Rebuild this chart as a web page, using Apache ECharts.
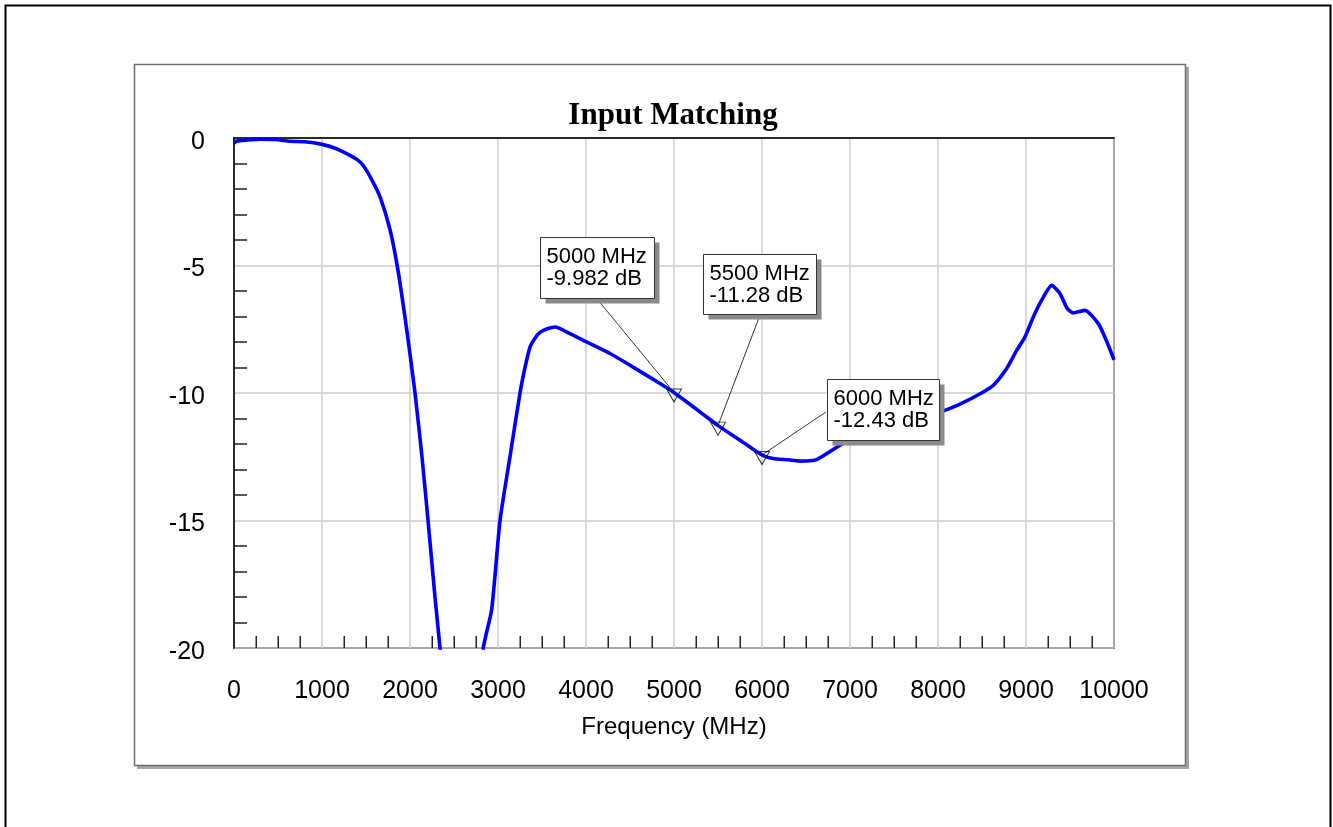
<!DOCTYPE html>
<html>
<head>
<meta charset="utf-8">
<script src="https://cdn.jsdelivr.net/npm/echarts@6/dist/echarts.min.js"></script>
<style>
  html, body { margin: 0; padding: 0; background: #fff; }
  #chart { width: 1333px; height: 827px; }
</style>
</head>
<body>
<div id="chart"></div>
<script>
// ---- data ----
const freqMHz = [0, 30, 150, 300, 466, 636, 800, 1000, 1150, 1318, 1400, 1466, 1560, 1659, 1773, 1864, 1962, 2057, 2133, 2205, 2284, 2341, 2400, 2500, 2600, 2700, 2833, 2928, 3023, 3136, 3250, 3307, 3364, 3420, 3477, 3560, 3648, 3818, 4008, 4273, 4500, 4841, 5000, 5371, 5500, 5750, 6000, 6129, 6300, 6432, 6621, 6886, 7000, 7300, 7600, 7900, 8080, 8250, 8515, 8629, 8780, 8894, 8989, 9083, 9178, 9292, 9386, 9470, 9538, 9670, 9822, 9920, 10000];
const s11dB = [-0.2, -0.12, -0.08, -0.05, -0.06, -0.13, -0.15, -0.25, -0.4, -0.68, -0.85, -1.07, -1.6, -2.3, -3.6, -5.2, -7.5, -10.0, -12.4, -15.0, -18.0, -20.0, -22.5, -27, -30, -25.5, -20.0, -18.5, -15.0, -12.5, -10.0, -9.0, -8.2, -7.85, -7.62, -7.48, -7.41, -7.67, -8.0, -8.45, -8.91, -9.63, -9.982, -10.94, -11.28, -11.85, -12.43, -12.57, -12.62, -12.67, -12.61, -12.05, -11.86, -11.5, -11.2, -10.9, -10.68, -10.44, -9.96, -9.7, -9.04, -8.33, -7.8, -7.02, -6.36, -5.78, -6.10, -6.7, -6.86, -6.76, -7.28, -8.0, -8.7];

const markerFreq = [5000, 5500, 6000];
const markerDb = [-9.982, -11.28, -12.43];
const markerText = ['5000 MHz\n-9.982 dB', '5500 MHz\n-11.28 dB', '6000 MHz\n-12.43 dB'];

const xTicks = [0, 1000, 2000, 3000, 4000, 5000, 6000, 7000, 8000, 9000, 10000];
const yTicks = [0, -5, -10, -15, -20];
const xMinorStep = 250;

const titleText = 'Input Matching';
const xName = 'Frequency (MHz)';

// ---- styling (kept apart from data) ----
const boxLayout = [
  { dx: -134, dy: -156, w: 114, h: 61, lx: -74, ly: -90 },
  { dx: -15,  dy: -172, w: 113, h: 60, lx: 41,  ly: -108 },
  { dx: 65,   dy: -76,  w: 112, h: 61, lx: 64,  ly: -43 }
];

const chart = echarts.init(document.getElementById('chart'), null, { renderer: 'canvas' });

const lineData = freqMHz.map((f, i) => [f, s11dB[i]]);
const markData = markerFreq.map((f, i) => [f, markerDb[i]]);

const font = 'Liberation Sans, Arial, sans-serif';

const option = {
  animation: false,
  backgroundColor: '#ffffff',
  title: {
    text: titleText,
    left: 668,
    top: 95,
    textAlign: 'center',
    textStyle: { fontFamily: 'Liberation Serif, Times New Roman, serif', fontWeight: 'bold', fontSize: 31, color: '#000' }
  },
  grid: { left: 234, top: 138, right: 219, bottom: 179, show: true, borderColor: '#000', borderWidth: 1.5, backgroundColor: 'transparent' },
  xAxis: {
    type: 'value', min: 0, max: 10000, interval: 1000,
    name: xName, nameLocation: 'middle', nameGap: 67,
    nameTextStyle: { fontFamily: font, fontSize: 24, color: '#000' },
    axisLine: { show: true, lineStyle: { color: '#000', width: 1.5 } },
    axisTick: { show: false },
    minorTick: { show: false },
    splitLine: { show: true, lineStyle: { color: '#cccccc', width: 1.5 } },
    axisLabel: { margin: 31, fontFamily: font, fontSize: 25, color: '#000',
      formatter: v => (xTicks.indexOf(v) >= 0 ? String(v) : '') }
  },
  yAxis: {
    type: 'value', min: -20, max: 0, interval: 5,
    axisLine: { show: true, lineStyle: { color: '#000', width: 1.5 } },
    axisTick: { show: false, inside: true },
    minorTick: { show: true, splitNumber: 5, length: 13, lineStyle: { color: '#222', width: 1.5 } },
    minorSplitLine: { show: false },
    splitLine: { show: true, lineStyle: { color: '#cccccc', width: 1.5 } },
    axisLabel: { margin: 29, fontFamily: font, fontSize: 25, color: '#000',
      formatter: v => (yTicks.indexOf(v) >= 0 ? '{v|' + v + '}' : ''),
      rich: { v: { fontFamily: font, fontSize: 25, color: '#000', padding: [8, 0, 0, 0] } } }
  },
  series: [
    {
      type: 'line', data: lineData, showSymbol: false, smooth: 0.2, clip: true,
      lineStyle: { color: '#0000ff', width: 3.6 }, z: 3
    },
    {
      type: 'scatter', data: markData, symbol: 'triangle', symbolRotate: 180,
      symbolSize: [15, 13], symbolOffset: [0, 3],
      itemStyle: { color: 'rgba(0,0,0,0)', borderColor: '#000', borderWidth: 1 }, z: 5
    }
  ]
};
chart.setOption(option);

const gfx = [];
// page frames
gfx.push({ type: 'rect', shape: { x: 5.5, y: 5.5, width: 1325, height: 900 }, style: { fill: null, stroke: '#000', lineWidth: 2 }, z: -10, silent: true });
gfx.push({ type: 'rect', shape: { x: 137, y: 67, width: 1052, height: 702 }, style: { fill: '#a6a6a6', stroke: null }, z: -9, silent: true });
gfx.push({ type: 'rect', shape: { x: 134.5, y: 64.5, width: 1051, height: 701 }, style: { fill: '#fff', stroke: '#6e6e6e', lineWidth: 1.5 }, z: -8, silent: true });

// x minor ticks (inside, pointing up) from the x scale; none at major gridlines
const yBottom = chart.convertToPixel({ yAxisIndex: 0 }, -20);
for (let v = xMinorStep; v < 10000; v += xMinorStep) {
  if (v % 1000 === 0) continue;
  const px = Math.round(chart.convertToPixel({ xAxisIndex: 0 }, v)) + 0.25;
  gfx.push({ type: 'line', shape: { x1: px, y1: yBottom, x2: px, y2: yBottom - 12 }, style: { stroke: '#222', lineWidth: 1.5 }, z: 10, silent: true });
}

markData.forEach((d, i) => {
  const p = chart.convertToPixel({ gridIndex: 0 }, d);
  const b = boxLayout[i];
  const bx = Math.round(p[0] + b.dx) + 0.5, by = Math.round(p[1] + b.dy) + 0.5;
  gfx.push({ type: 'line', shape: { x1: p[0] + b.lx, y1: p[1] + b.ly, x2: p[0], y2: p[1] }, style: { stroke: '#000', lineWidth: 0.8 }, z: 20, silent: true });
  gfx.push({ type: 'rect', shape: { x: bx + 5, y: by + 5, width: b.w, height: b.h }, style: { fill: '#8a8a8a', stroke: null }, z: 21, silent: true });
  gfx.push({ type: 'rect', shape: { x: bx, y: by, width: b.w, height: b.h }, style: { fill: '#fff', stroke: '#333', lineWidth: 1 }, z: 22, silent: true });
  gfx.push({ type: 'text', x: bx + 6, y: by + b.h / 2, z: 23, silent: true,
    style: { text: markerText[i], fontFamily: font, fontSize: 22, lineHeight: 22, fill: '#000', textAlign: 'left', textVerticalAlign: 'middle' } });
});
chart.setOption({ graphic: gfx });
</script>
</body>
</html>
